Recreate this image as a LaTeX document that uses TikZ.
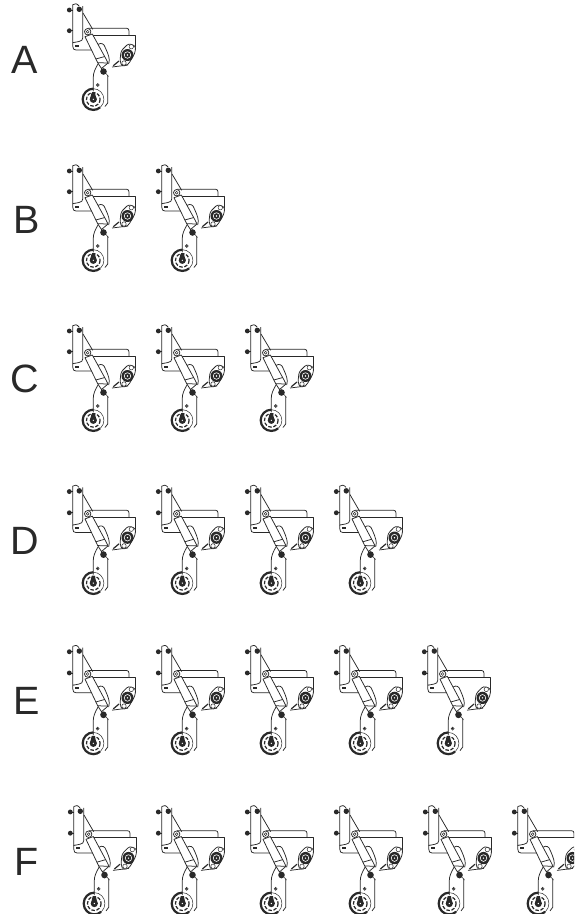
\documentclass[tikz,border=0pt]{standalone}
\usepackage{fontspec}
\setmainfont{Liberation Sans}
\definecolor{ink}{gray}{0.16}
\tikzset{
 ln/.style={line width=0.75pt,draw=ink,line join=round},
 fine/.style={line width=0.5pt,draw=ink},
 blob/.style={fill=ink,draw=none},
 letter/.style={font=\fontsize{39.5}{40}\selectfont,text=ink,inner sep=0pt,anchor=center},
 mech/.pic={
  % frame lines
  \draw[ln] (88,28.3)--(126.7,28.3) .. controls (128.2,28.3) and (129,29.3) .. (129,31)--(129,35);
  \draw[ln] (92,35)--(135.3,35)--(135.3,50);
  \draw[ln] (128,65)--(112,67);
  \draw[ln] (83,13)--(92.7,29.3);
  % vertical plate
  \draw[ln] (72.7,4.7) .. controls (75,3) and (77,3.5) .. (79,6);
  \draw[ln] (72.7,4.7)--(72.7,42.7)--(79,41.5) .. controls (81.5,41) and (82.7,40) .. (82.7,38)--(82.7,6);
  \draw[ln] (72.7,42.7)--(72.7,46) .. controls (72.7,49) and (74,50) .. (76,50)--(91.5,50);
  \fill[ink] (74.5,44.5) rectangle (79,46.5);
  % bolts
  \draw[ln] (69.3,10)--(73,10) (69.3,30.7)--(73,30.7);
  \fill[blob] (69.3,10) circle (2.4) (79.3,9.3) circle (2.7) (69.3,30.7) circle (2.4);
  % lifting cylinder
  \draw[ln] (96.7,45) .. controls (98.5,43.5) and (102,42.5) .. (104,45) .. controls (106,49) and (109.3,56) .. (109.3,60)--(108.7,64);
  \draw[ln,fill=white] (85,36.7)--(92.3,34)--(106.3,59.5)--(108,63)--(101.5,68.5)--(97.7,62.7)--cycle;
  \draw[ln] (95.8,59)--(104.8,56.5) (97.7,62.7)--(108,63);
  % pivot
  \draw[ln,fill=white] (87.7,31.7) circle (3.2);
  \draw[fine] (87.7,31.7) circle (1.4);
  % spring mark
  \draw[line width=1.2pt,ink] (113.3,65.7)--(119,61);
  % motor flange
  \draw[ln,fill=white,rounded corners=2.5pt] (128.5,43.5)--(135.7,46)--(135,53)--(128.3,64.5)--(122,66.5)--(120,61)--(121,51)--cycle;
  \fill[blob] (127.5,55) circle (6);
  \fill[white] (127.5,55) circle (3.6);
  \fill[blob] (127.5,55) circle (2.8);
  \fill[white] (127.5,55) circle (0.8);
  \draw[fine,fill=white] (131.3,46.7) circle (2.2) (124,63) circle (2.2);
  % lower arm
  \draw[ln] (98,64) .. controls (95,69) and (93.3,73) .. (93.3,77)--(93.3,91);
  \draw[ln] (107.7,75)--(107.7,103)--(105,106.5);
  \fill[blob] (103.5,71.5) circle (3.3);
  \draw[fine] (106,73.5)--(108.5,76.5);
  \draw[fine,fill=white] (97.7,85) circle (1.5);
  \fill[blob] (97.7,85) circle (0.9);
  % wheel
  \draw[fine] (93.3,99.3) circle (10.6);
  \draw[line width=2.2pt,ink] (93.3,99.3) ++(-90:10.6) arc[start angle=-90,end angle=-310,radius=10.6];
  \draw[line width=1.2pt,ink,dash pattern=on 3.5pt off 1.6pt] (93.3,99.3) circle (6.8);
  \fill[blob] (93.3,99.3) circle (3.6);
  \fill[blob] (91.5,93)--(95,93)--(96.5,99.3)--(90,99.3)--cycle;
  \fill[white] (93.3,99.3) circle (0.7);
 }
}
\begin{document}
\begin{tikzpicture}[x=1pt,y=-1pt]
\path[use as bounding box] (0,0) rectangle (574,914);
\clip (0,0) rectangle (574,914);
\fill[white] (0,0) rectangle (574,914);
\node[letter] (la) at (25,59.5) {A};
\node[letter] (lb) at (26.5,219.5) {B};
\node[letter] (lc) at (24.5,379) {C};
\node[letter] (ld) at (25,541) {D};
\node[letter] (le) at (26.5,701) {E};
\node[letter] (lf) at (27,862) {F};
\pic at (0,0) {mech};
\foreach \x in {0,89} \pic at (\x,161) {mech};
\foreach \x in {0,89,178} \pic at (\x,321) {mech};
\foreach \x in {0,89,178,267} \pic[yscale=1.025] at (\x,481.3) {mech};
\foreach \x in {0,89,178,267,355} \pic[yscale=1.025] at (\x,641.5) {mech};
\foreach \x in {1,89,178,267,356,445} \pic[yscale=1.025] at (\x,801.7) {mech};
\end{tikzpicture}
\end{document}
